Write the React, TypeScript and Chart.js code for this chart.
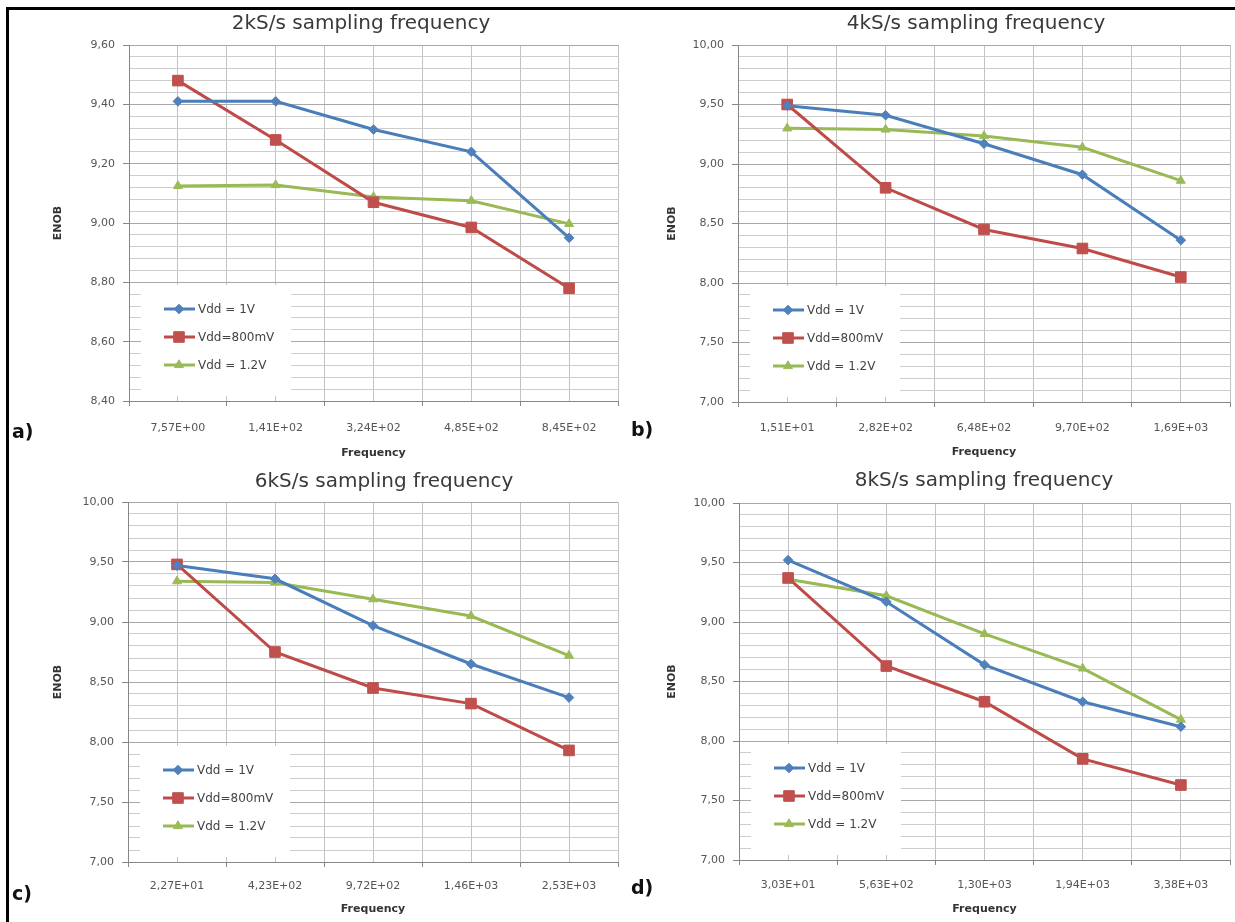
import React, { useEffect, useRef } from 'react';
import { Chart, registerables } from 'chart.js';

Chart.register(...registerables);

// ---------- data ----------
const seriesNames = ['Vdd = 1V', 'Vdd=800mV', 'Vdd = 1.2V'];

const freqA = ['7,57E+00', '1,41E+02', '3,24E+02', '4,85E+02', '8,45E+02'];
const vdd1A = [9.41, 9.41, 9.315, 9.24, 8.95];
const vdd800A = [9.48, 9.28, 9.07, 8.985, 8.78];
const vdd12A = [9.125, 9.128, 9.088, 9.075, 8.997];

const freqB = ['1,51E+01', '2,82E+02', '6,48E+02', '9,70E+02', '1,69E+03'];
const vdd1B = [9.49, 9.41, 9.17, 8.91, 8.36];
const vdd800B = [9.5, 8.8, 8.45, 8.29, 8.05];
const vdd12B = [9.3, 9.29, 9.235, 9.14, 8.86];

const freqC = ['2,27E+01', '4,23E+02', '9,72E+02', '1,46E+03', '2,53E+03'];
const vdd1C = [9.47, 9.36, 8.97, 8.65, 8.37];
const vdd800C = [9.48, 8.75, 8.45, 8.32, 7.93];
const vdd12C = [9.34, 9.33, 9.19, 9.05, 8.72];

const freqD = ['3,03E+01', '5,63E+02', '1,30E+03', '1,94E+03', '3,38E+03'];
const vdd1D = [9.52, 9.17, 8.64, 8.33, 8.12];
const vdd800D = [9.37, 8.63, 8.33, 7.85, 7.63];
const vdd12D = [9.36, 9.22, 8.9, 8.61, 8.18];

// ---------- styles ----------
const FONT = '"DejaVu Sans", "Liberation Sans", sans-serif';
const seriesColors = ['#4a7ebb', '#be4b48', '#98b954'];
const markerColors = ['#4f81bd', '#c0504d', '#9bbb59'];
const pointStyles = ['rectRot', 'rect', 'triangle'];
const pointRadii = [4.8, 7.5, 5.2];

const panels = [
  {
    title: '2kS/s sampling frequency', tag: 'a)', labels: freqA, series: [vdd1A, vdd800A, vdd12A],
    yMin: 8.4, yMax: 9.6, yMajor: 0.2,
    canvas: { left: 10, top: 10, w: 612, h: 452 }, area: { l: 129, t: 45, r: 618, b: 401 },
    titleAt: [361, 29], tagAt: [12, 438], xTitleY: 453, yTitleX: 58, xTickPad: 16,
  },
  {
    title: '4kS/s sampling frequency', tag: 'b)', labels: freqB, series: [vdd1B, vdd800B, vdd12B],
    yMin: 7, yMax: 10, yMajor: 0.5,
    canvas: { left: 625, top: 10, w: 610, h: 452 }, area: { l: 738, t: 45, r: 1230, b: 402 },
    titleAt: [976, 29], tagAt: [631, 436], xTitleY: 452, yTitleX: 672, xTickPad: 15,
  },
  {
    title: '6kS/s sampling frequency', tag: 'c)', labels: freqC, series: [vdd1C, vdd800C, vdd12C],
    yMin: 7, yMax: 10, yMajor: 0.5,
    canvas: { left: 10, top: 465, w: 612, h: 457 }, area: { l: 128, t: 502, r: 618, b: 862 },
    titleAt: [384, 487], tagAt: [12, 900], xTitleY: 909, yTitleX: 58, xTickPad: 13,
  },
  {
    title: '8kS/s sampling frequency', tag: 'd)', labels: freqD, series: [vdd1D, vdd800D, vdd12D],
    yMin: 7, yMax: 10, yMajor: 0.5,
    canvas: { left: 625, top: 465, w: 610, h: 457 }, area: { l: 739, t: 503, r: 1230, b: 860 },
    titleAt: [984, 486], tagAt: [631, 894], xTitleY: 909, yTitleX: 672, xTickPad: 14,
  },
];

function drawMarker(ctx: CanvasRenderingContext2D, style: string, x: number, y: number, r: number, color: string) {
  ctx.beginPath();
  if (style === 'rect') {
    const s = Math.SQRT1_2 * r;
    ctx.rect(x - s, y - s, 2 * s, 2 * s);
  } else if (style === 'rectRot') {
    ctx.moveTo(x, y - r);
    ctx.lineTo(x + r, y);
    ctx.lineTo(x, y + r);
    ctx.lineTo(x - r, y);
    ctx.closePath();
  } else {
    const s = (3 * r) / Math.sqrt(3);
    const h = (s * Math.sqrt(3)) / 2;
    ctx.moveTo(x, y - (2 * h) / 3);
    ctx.lineTo(x + s / 2, y + h / 3);
    ctx.lineTo(x - s / 2, y + h / 3);
    ctx.closePath();
  }
  ctx.fillStyle = color;
  ctx.strokeStyle = color;
  ctx.lineWidth = 1;
  ctx.fill();
  ctx.stroke();
}

const decorPlugin = {
  id: 'decor',
  afterDraw(chart: any, _args: any, opts: any) {
    const ctx: CanvasRenderingContext2D = chart.ctx;
    const ca = chart.chartArea;
    ctx.save();
    // title
    ctx.font = `20px ${FONT}`;
    ctx.fillStyle = '#3a3a3a';
    ctx.textAlign = 'center';
    ctx.textBaseline = 'alphabetic';
    ctx.fillText(opts.title, opts.titleX, opts.titleY);
    // tag
    ctx.font = `bold 19px ${FONT}`;
    ctx.fillStyle = '#111';
    ctx.textAlign = 'left';
    ctx.fillText(opts.tag, opts.tagX, opts.tagY);
    // legend
    ctx.fillStyle = '#ffffff';
    ctx.fillRect(ca.left + 12, ca.bottom - 116, 150, 111);
    const dys = [-92, -64, -36];
    chart.data.datasets.forEach((ds: any, i: number) => {
      const y = ca.bottom + dys[i];
      ctx.strokeStyle = ds.borderColor;
      ctx.lineWidth = 3;
      ctx.beginPath();
      ctx.moveTo(ca.left + 35, y);
      ctx.lineTo(ca.left + 66, y);
      ctx.stroke();
      drawMarker(ctx, ds.pointStyle, ca.left + 50, y, ds.pointRadius, ds.pointBackgroundColor);
      ctx.font = `12px ${FONT}`;
      ctx.fillStyle = '#444';
      ctx.textAlign = 'left';
      ctx.textBaseline = 'middle';
      ctx.fillText(ds.label, ca.left + 69, y + 1);
    });
    ctx.restore();
  },
};

const isInt = (v: number) => Math.abs(v - Math.round(v)) < 1e-6;

function Panel({ p }: { p: any }) {
  const ref = useRef<HTMLCanvasElement>(null);
  useEffect(() => {
    if (!ref.current) return;
    const c = p.canvas;
    const a = p.area;
    const isMajor = (v: number) => isInt(v / p.yMajor);
    const yAxisW = a.l - c.left;
    const xAxisH = c.top + c.h - a.b;
    const tickFont = { family: FONT, size: 11 };
    const titleFont = { family: FONT, size: 11, weight: 'bold' as const };
    const lh = 11 * 1.2;
    const datasets = p.series.map((vals: number[], i: number) => ({
      label: seriesNames[i],
      data: p.labels.map((_: string, j: number) => ({ x: j, y: vals[j] })),
      borderColor: seriesColors[i],
      backgroundColor: markerColors[i],
      pointBackgroundColor: markerColors[i],
      pointBorderColor: markerColors[i],
      pointStyle: pointStyles[i],
      pointRadius: pointRadii[i],
      pointBorderWidth: 1,
      borderWidth: 3,
      tension: 0,
      fill: false,
    }));
    const chart = new Chart(ref.current, {
      type: 'line',
      data: { datasets },
      plugins: [decorPlugin],
      options: {
        animation: false,
        responsive: false,
        maintainAspectRatio: false,
        devicePixelRatio: 1,
        layout: { autoPadding: false, padding: { top: a.t - c.top, right: c.left + c.w - a.r, left: 0, bottom: 0 } },
        plugins: {
          legend: { display: false },
          tooltip: { enabled: false },
          decor: {
            title: p.title, titleX: p.titleAt[0] - c.left, titleY: p.titleAt[1] - c.top,
            tag: p.tag, tagX: p.tagAt[0] - c.left, tagY: p.tagAt[1] - c.top,
          },
        } as any,
        scales: {
          x: {
            type: 'linear',
            min: -0.5,
            max: 4.5,
            afterFit: (s: any) => { s.height = xAxisH; s.paddingLeft = 0; s.paddingRight = 0; },
            ticks: {
              stepSize: 0.5,
              autoSkip: false,
              maxRotation: 0,
              minRotation: 0,
              padding: p.xTickPad,
              color: '#555',
              font: tickFont,
              callback: (v: any) => (isInt(v) ? p.labels[Math.round(v)] : ''),
            },
            grid: {
              color: '#c2c2c2',
              lineWidth: 1,
              tickLength: 5,
              tickColor: (ctx: any) => (isInt(ctx.tick.value) ? 'rgba(0,0,0,0)' : '#868686'),
            },
            border: { color: '#868686', width: 1 },
            title: {
              display: true, text: 'Frequency', font: titleFont, color: '#333',
              padding: { top: 0, bottom: c.top + c.h - p.xTitleY - lh / 2 },
            },
          },
          y: {
            type: 'linear',
            min: p.yMin,
            max: p.yMax,
            afterFit: (s: any) => { s.width = yAxisW; s.paddingTop = 0; s.paddingBottom = 0; },
            ticks: {
              stepSize: p.yMajor / 5,
              autoSkip: false,
              padding: 8,
              color: '#555',
              font: tickFont,
              callback: (v: any) => (isMajor(v) ? Number(v).toFixed(2).replace('.', ',') : ''),
            },
            grid: {
              color: (ctx: any) => (isMajor(ctx.tick.value) ? '#a8a8a8' : '#cdcdcd'),
              lineWidth: 1,
              tickLength: 6,
              tickColor: (ctx: any) => (isMajor(ctx.tick.value) ? '#868686' : 'rgba(0,0,0,0)'),
            },
            border: { color: '#868686', width: 1 },
            title: {
              display: true, text: 'ENOB', font: titleFont, color: '#333',
              padding: { top: p.yTitleX - c.left - lh / 2, bottom: 0 },
            },
          },
        },
      } as any,
    });
    return () => chart.destroy();
  }, [p]);
  const c = p.canvas;
  return (
    <canvas
      ref={ref}
      width={c.w}
      height={c.h}
      style={{ position: 'absolute', left: c.left, top: c.top, width: c.w, height: c.h }}
    />
  );
}

export default function App() {
  return (
    <div style={{ position: 'absolute', left: 0, top: 0, width: 1235, height: 922, background: '#fff', overflow: 'hidden' }}>
      <div style={{ position: 'absolute', left: 6, top: 7, width: 1229, height: 915, borderTop: '3px solid #000', borderLeft: '3px solid #000', boxSizing: 'border-box' }} />
      {panels.map((p) => (
        <Panel key={p.tag} p={p} />
      ))}
    </div>
  );
}
